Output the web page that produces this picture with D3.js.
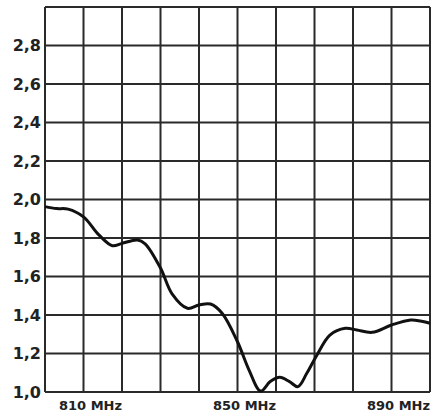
<!DOCTYPE html>
<html>
<head>
<meta charset="utf-8">
<script src="https://cdn.jsdelivr.net/npm/d3@7"></script>
<style>
    body { margin: 0; background: #fff; }
    svg text { font-family: "DejaVu Sans", sans-serif; font-weight: 700; fill: #222; }
</style>
</head>
<body>
<svg id="chart" width="433" height="412"></svg>
<script>
// VSWR vs frequency
const freq = [800, 803, 806, 810, 814, 817.5, 820, 824, 826, 830, 833, 837, 840, 843, 846, 850,
              853, 856, 858.5, 861, 863.5, 865.7, 868, 870.5, 874, 878, 881, 885, 890, 895, 897.5, 900];
const vswr = [1.963, 1.953, 1.95, 1.91, 1.816, 1.76, 1.772, 1.79, 1.77, 1.644, 1.51, 1.435, 1.452, 1.457, 1.409, 1.261,
              1.114, 1.005, 1.054, 1.076, 1.054, 1.028, 1.097, 1.187, 1.296, 1.331, 1.322, 1.31, 1.348, 1.374, 1.369, 1.357];
const yTicks = [1.0, 1.2, 1.4, 1.6, 1.8, 2.0, 2.2, 2.4, 2.6, 2.8];
const xTicks = [810, 850, 890];
const xGrid = d3.range(800, 901, 10);
const yGrid = d3.range(1.0, 3.01, 0.2);

const margin = { top: 7, right: 3, bottom: 20, left: 45 };
const W = 433, H = 412;
const width = W - margin.left - margin.right;
const height = H - margin.top - margin.bottom;

const x = d3.scaleLinear().domain([800, 900]).range([0, width]);
const y = d3.scaleLinear().domain([1.0, 3.0]).range([height, 0]);

const svg = d3.select('#chart');
const g = svg.append('g').attr('transform', `translate(${margin.left},${margin.top})`);

// grid
g.selectAll('.vgrid').data(xGrid).enter().append('line')
    .attr('x1', d => x(d)).attr('x2', d => x(d))
    .attr('y1', 0).attr('y2', height)
    .attr('stroke', '#2a2a2a').attr('stroke-width', 2);
g.selectAll('.hgrid').data(yGrid).enter().append('line')
    .attr('y1', d => y(d)).attr('y2', d => y(d))
    .attr('x1', 0).attr('x2', width)
    .attr('stroke', '#2a2a2a').attr('stroke-width', 2);

// y labels
g.selectAll('.ylab').data(yTicks).enter().append('text')
    .attr('x', -4).attr('y', d => y(d)).attr('dy', '0.36em')
    .attr('text-anchor', 'end').attr('font-size', 16)
    .text(d => d3.format('.1f')(d).replace('.', ','));

// x labels
g.selectAll('.xlab').data(xTicks).enter().append('text')
    .attr('x', d => x(d) + 7).attr('y', height + 18)
    .attr('text-anchor', 'middle').attr('font-size', 13)
    .text(d => d + ' MHz');

// curve
const line = d3.line()
    .x((d, i) => x(freq[i]))
    .y(d => y(d))
    .curve(d3.curveCatmullRom.alpha(0.5));

g.append('path')
    .datum(vswr)
    .attr('d', line)
    .attr('fill', 'none')
    .attr('stroke', '#111')
    .attr('stroke-width', 3)
    .attr('stroke-linejoin', 'round');
</script>
</body>
</html>
